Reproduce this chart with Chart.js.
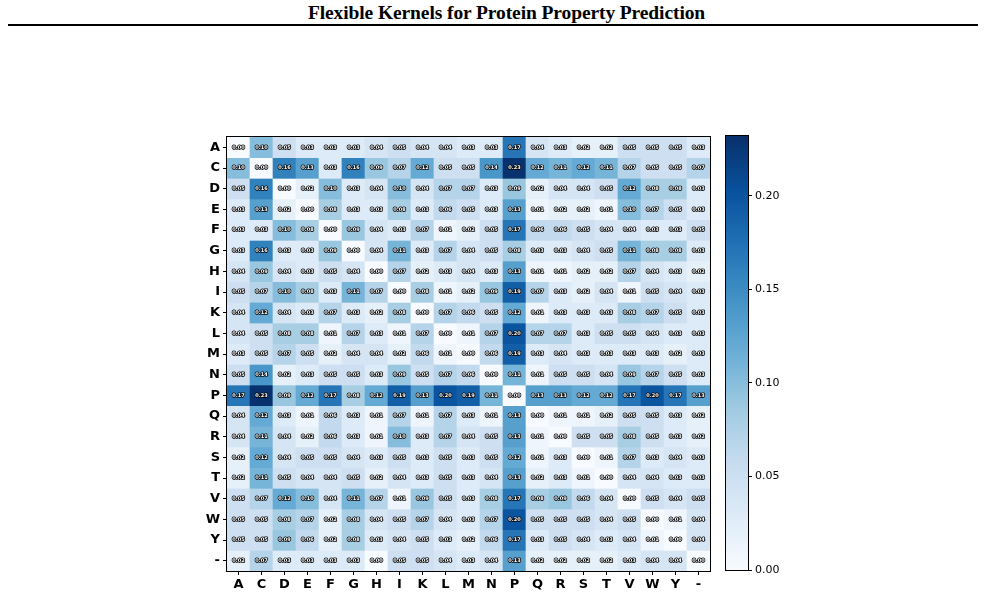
<!DOCTYPE html>
<html>
<head>
<meta charset="utf-8">
<script src="https://cdn.jsdelivr.net/npm/chart.js@4.4.0/dist/chart.umd.min.js"></script>
<style>
body { margin: 0; background: #fff; width: 985px; height: 611px; position: relative; overflow: hidden; }
#titulo { position: absolute; left: 14px; top: 2px; width: 985px; text-align: center; font: bold 19.5px "Liberation Serif", serif; color: #000; letter-spacing: -0.1px; }
#regla { position: absolute; left: 8px; top: 24px; width: 970px; height: 2px; background: #000; }
#heat { position: absolute; left: 180px; top: 135px; }
#barra { position: absolute; left: 724px; top: 134px; }
</style>
</head>
<body>
<div id="titulo">Flexible Kernels for Protein Property Prediction</div>
<div id="regla"></div>
<canvas id="heat" width="532" height="466"></canvas>
<canvas id="barra" width="64" height="444"></canvas>
<script>
// etiquetas de filas y columnas (aminoácidos)
const rowLabels = ['A','C','D','E','F','G','H','I','K','L','M','N','P','Q','R','S','T','V','W','Y','-'];
const colLabels = ['A','C','D','E','F','G','H','I','K','L','M','N','P','Q','R','S','T','V','W','Y','-'];

// valores de cada fila
const rowA = [0.00,0.10,0.05,0.03,0.03,0.03,0.04,0.05,0.04,0.04,0.03,0.03,0.17,0.04,0.03,0.02,0.02,0.05,0.05,0.05,0.03];
const rowC = [0.10,0.00,0.16,0.13,0.03,0.16,0.09,0.07,0.12,0.05,0.05,0.14,0.23,0.12,0.11,0.12,0.11,0.07,0.05,0.05,0.07];
const rowD = [0.05,0.16,0.00,0.02,0.10,0.03,0.04,0.10,0.04,0.07,0.07,0.03,0.09,0.02,0.04,0.04,0.05,0.12,0.08,0.08,0.03];
const rowE = [0.03,0.13,0.02,0.00,0.08,0.03,0.03,0.08,0.03,0.06,0.05,0.03,0.13,0.01,0.02,0.02,0.01,0.10,0.07,0.05,0.03];
const rowF = [0.03,0.03,0.10,0.08,0.00,0.09,0.04,0.03,0.07,0.01,0.02,0.05,0.17,0.06,0.06,0.05,0.04,0.04,0.03,0.03,0.05];
const rowG = [0.03,0.16,0.03,0.03,0.09,0.00,0.04,0.11,0.03,0.07,0.04,0.05,0.08,0.03,0.03,0.04,0.05,0.11,0.08,0.08,0.03];
const rowH = [0.04,0.09,0.04,0.03,0.05,0.04,0.00,0.07,0.02,0.03,0.04,0.03,0.13,0.01,0.01,0.02,0.02,0.07,0.04,0.03,0.02];
const rowI = [0.05,0.07,0.10,0.08,0.03,0.11,0.07,0.00,0.08,0.01,0.02,0.09,0.19,0.07,0.03,0.02,0.04,0.01,0.05,0.04,0.03];
const rowK = [0.04,0.12,0.04,0.03,0.07,0.03,0.02,0.08,0.00,0.07,0.06,0.05,0.12,0.01,0.03,0.03,0.03,0.08,0.07,0.05,0.03];
const rowL = [0.04,0.05,0.08,0.08,0.01,0.07,0.03,0.01,0.07,0.00,0.01,0.07,0.20,0.07,0.07,0.03,0.05,0.05,0.04,0.03,0.03];
const rowM = [0.03,0.05,0.07,0.05,0.02,0.04,0.04,0.02,0.06,0.01,0.00,0.06,0.19,0.03,0.04,0.03,0.03,0.03,0.03,0.02,0.03];
const rowN = [0.05,0.14,0.02,0.03,0.05,0.05,0.03,0.09,0.05,0.07,0.06,0.00,0.11,0.01,0.05,0.05,0.04,0.09,0.07,0.05,0.03];
const rowP = [0.17,0.23,0.09,0.12,0.17,0.08,0.12,0.19,0.13,0.20,0.19,0.11,0.00,0.13,0.13,0.12,0.12,0.17,0.20,0.17,0.13];
const rowQ = [0.04,0.12,0.03,0.01,0.06,0.03,0.01,0.07,0.01,0.07,0.03,0.01,0.13,0.00,0.01,0.01,0.02,0.05,0.05,0.03,0.02];
const rowR = [0.04,0.11,0.04,0.02,0.06,0.03,0.01,0.10,0.03,0.07,0.04,0.05,0.13,0.01,0.00,0.05,0.05,0.08,0.05,0.03,0.02];
const rowS = [0.02,0.12,0.04,0.05,0.05,0.04,0.03,0.05,0.03,0.05,0.03,0.05,0.12,0.01,0.03,0.00,0.01,0.07,0.03,0.04,0.03];
const rowT = [0.02,0.11,0.05,0.04,0.04,0.05,0.02,0.04,0.03,0.05,0.03,0.04,0.13,0.02,0.03,0.01,0.00,0.04,0.04,0.03,0.03];
const rowV = [0.05,0.07,0.12,0.10,0.04,0.11,0.07,0.01,0.09,0.05,0.03,0.08,0.17,0.08,0.09,0.06,0.04,0.00,0.05,0.04,0.05];
const rowW = [0.05,0.05,0.08,0.07,0.02,0.08,0.04,0.05,0.07,0.04,0.03,0.07,0.20,0.05,0.05,0.05,0.04,0.05,0.00,0.01,0.04];
const rowY = [0.05,0.05,0.09,0.06,0.02,0.08,0.03,0.04,0.05,0.03,0.02,0.06,0.17,0.03,0.05,0.04,0.03,0.04,0.01,0.00,0.04];
const rowGap = [0.02,0.07,0.03,0.03,0.03,0.03,0.00,0.05,0.05,0.04,0.03,0.04,0.13,0.02,0.02,0.02,0.02,0.03,0.04,0.04,0.00];

const values = [rowA,rowC,rowD,rowE,rowF,rowG,rowH,rowI,rowK,rowL,rowM,rowN,rowP,rowQ,rowR,rowS,rowT,rowV,rowW,rowY,rowGap];

// escala de color
const vmax = 0.232;
const colorbarTicks = [0.00, 0.05, 0.10, 0.15, 0.20];

// paleta "Blues" de matplotlib
const blues = ['#f7fbff','#deebf7','#c6dbef','#9ecae1','#6baed6','#4292c6','#2171b5','#08519c','#08306b'];

function hexRgb(h) {
    return [parseInt(h.slice(1,3),16), parseInt(h.slice(3,5),16), parseInt(h.slice(5,7),16)];
}

function colorBlues(t) {
    t = Math.max(0, Math.min(1, t));
    const pos = t * (blues.length - 1);
    const i = Math.min(Math.floor(pos), blues.length - 2);
    const f = pos - i;
    const a = hexRgb(blues[i]), b = hexRgb(blues[i+1]);
    const c = a.map((v, k) => Math.round(v + (b[k] - v) * f));
    return `rgb(${c[0]},${c[1]},${c[2]})`;
}

// quitar el relleno automático que Chart.js deja para las etiquetas
function sinRelleno(s) {
    s.paddingTop = 0;
    s.paddingBottom = 0;
    s.paddingLeft = 0;
    s.paddingRight = 0;
}

// marco negro alrededor del área del gráfico
const marco = {
    id: 'marco',
    afterDraw(chart) {
        const a = chart.chartArea;
        const ctx = chart.ctx;
        ctx.save();
        ctx.strokeStyle = '#000';
        ctx.lineWidth = 1;
        ctx.strokeRect(Math.round(a.left) - 0.5, Math.round(a.top) - 0.5, Math.round(a.right - a.left) + 1, Math.round(a.bottom - a.top) + 1);
        ctx.restore();
    }
};

// texto del valor dentro de cada celda
const textoCeldas = {
    id: 'textoCeldas',
    afterDatasetsDraw(chart) {
        const ctx = chart.ctx;
        ctx.save();
        ctx.font = 'bold 5px "DejaVu Sans"';
        ctx.textAlign = 'center';
        ctx.textBaseline = 'middle';
        ctx.lineJoin = 'round';
        chart.data.datasets.forEach((ds, r) => {
            chart.getDatasetMeta(r).data.forEach((bar, c) => {
                const p = bar.getCenterPoint();
                const txt = values[r][c].toFixed(2);
                ctx.strokeStyle = '#000';
                ctx.lineWidth = 1.6;
                ctx.strokeText(txt, p.x, p.y);
                ctx.fillStyle = '#fff';
                ctx.fillText(txt, p.x, p.y);
            });
        });
        ctx.restore();
    }
};

const fuenteEje = { family: 'DejaVu Sans', size: 13, weight: 'bold' };

new Chart(document.getElementById('heat').getContext('2d'), {
    type: 'bar',
    data: {
        labels: colLabels,
        datasets: values.map((fila, r) => ({
            data: fila.map(() => [r - 0.5, r + 0.5]),
            backgroundColor: fila.map(v => colorBlues(v / vmax)),
            borderWidth: 0,
            barPercentage: 1,
            categoryPercentage: 1,
            grouped: false
        }))
    },
    options: {
        responsive: false,
        animation: false,
        layout: { padding: { top: 2, right: 2, left: 0, bottom: 0 } },
        plugins: { legend: { display: false }, tooltip: { enabled: false } },
        scales: {
            x: {
                grid: { display: true, drawOnChartArea: false, offset: false, tickLength: 4, color: '#000' },
                border: { display: false },
                ticks: { font: fuenteEje, color: '#000', padding: 2, maxRotation: 0, autoSkip: false },
                afterFit: s => { s.height = 30; sinRelleno(s); }
            },
            y: {
                type: 'linear',
                min: -0.5,
                max: 20.5,
                reverse: true,
                afterBuildTicks: s => { s.ticks = rowLabels.map((_, i) => ({ value: i })); },
                grid: { display: true, drawOnChartArea: false, tickLength: 4, color: '#000' },
                border: { display: false },
                ticks: { font: fuenteEje, color: '#000', padding: 3, autoSkip: false, callback: v => rowLabels[v] },
                afterFit: s => { s.width = 47; sinRelleno(s); }
            }
        }
    },
    plugins: [textoCeldas, marco]
});

// barra de color
new Chart(document.getElementById('barra').getContext('2d'), {
    type: 'bar',
    data: {
        labels: [''],
        datasets: [{
            data: [[0, vmax]],
            borderWidth: 0,
            barPercentage: 1,
            categoryPercentage: 1,
            backgroundColor: function(context) {
                const a = context.chart.chartArea;
                if (!a) return null;
                const g = context.chart.ctx.createLinearGradient(0, a.bottom, 0, a.top);
                blues.forEach((c, i) => g.addColorStop(i / (blues.length - 1), c));
                return g;
            }
        }]
    },
    options: {
        responsive: false,
        animation: false,
        layout: { padding: { top: 2, left: 2, bottom: 8, right: 0 } },
        plugins: { legend: { display: false }, tooltip: { enabled: false } },
        scales: {
            x: { display: false },
            y: {
                position: 'right',
                min: 0,
                max: vmax,
                afterBuildTicks: s => { s.ticks = colorbarTicks.map(v => ({ value: v })); },
                grid: { display: true, drawOnChartArea: false, tickLength: 4, color: '#000' },
                border: { display: false },
                ticks: { font: { family: 'DejaVu Sans', size: 11 }, color: '#000', padding: 3, callback: v => v.toFixed(2) },
                afterFit: s => { s.width = 40; sinRelleno(s); }
            }
        }
    },
    plugins: [marco]
});
</script>
</body>
</html>
